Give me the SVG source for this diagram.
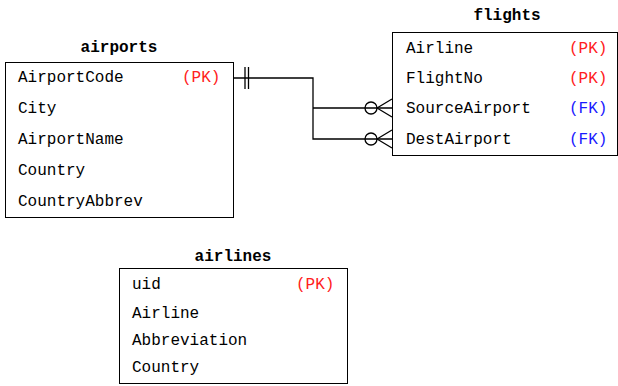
<svg xmlns="http://www.w3.org/2000/svg" width="618" height="386" viewBox="0 0 618 386">
<style>
text{font-family:"Liberation Mono","DejaVu Sans Mono",monospace;font-size:16px;fill:#000}
.t{font-weight:bold;text-anchor:middle}
.pk{fill:#ff2020}
.fk{fill:#1a1aff}
.box{fill:#fff;stroke:#000;stroke-width:1}
.ln{fill:none;stroke:#000;stroke-width:1.3}
</style>
<rect width="618" height="386" fill="#fff"/>
<g id="airports">
<text class="t" x="119" y="52">airports</text>
<rect class="box" x="5.5" y="62.5" width="228" height="155"/>
<text x="18" y="82">AirportCode</text><text class="pk" x="182" y="82">(PK)</text>
<text x="18" y="113">City</text>
<text x="18" y="144">AirportName</text>
<text x="18" y="175">Country</text>
<text x="18" y="206">CountryAbbrev</text>
</g>
<g id="flights">
<text class="t" x="507" y="20">flights</text>
<rect class="box" x="392.5" y="32.5" width="225" height="123"/>
<text x="406" y="53">Airline</text><text class="pk" x="569" y="53">(PK)</text>
<text x="406" y="83">FlightNo</text><text class="pk" x="569" y="83">(PK)</text>
<text x="406" y="113">SourceAirport</text><text class="fk" x="569" y="113">(FK)</text>
<text x="406" y="144">DestAirport</text><text class="fk" x="569" y="144">(FK)</text>
</g>
<g id="airlines">
<text class="t" x="233" y="261">airlines</text>
<rect class="box" x="119.5" y="268.5" width="228" height="115"/>
<text x="132" y="289">uid</text><text class="pk" x="296" y="289">(PK)</text>
<text x="132" y="318">Airline</text>
<text x="132" y="345">Abbreviation</text>
<text x="132" y="372">Country</text>
</g>
<g id="connectors">
<path class="ln" d="M234 78H313V139H392M313 108H392"/>
<path class="ln" d="M245 67V89M248.5 67V89"/>
<circle class="ln" cx="371" cy="108" r="6"/>
<path class="ln" d="M377 108L392 99M377 108L392 117"/>
<circle class="ln" cx="371" cy="139" r="6"/>
<path class="ln" d="M377 139L392 130M377 139L392 148"/>
</g>
</svg>
